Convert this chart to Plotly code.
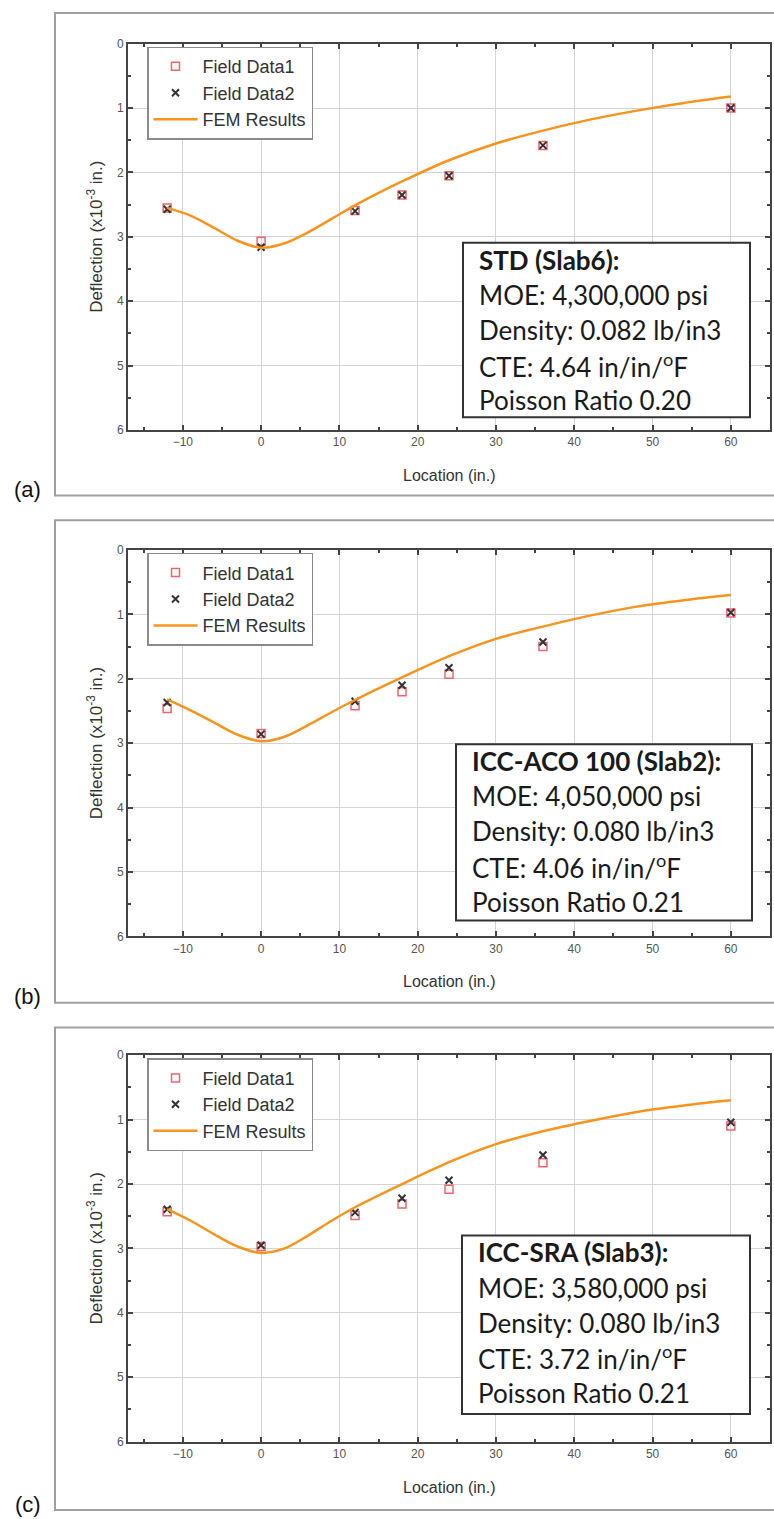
import plotly.graph_objects as go

W, H = 774, 1519

# Measurement locations (in.) and deflections (x10^-3 in.)
locations = [-12, 0, 12, 18, 24, 36, 60]
fem_x = [-12, -9, -6, -3, 0, 3, 6, 9, 12, 18, 24, 30, 36, 42, 48, 54, 60]

field1_a = [2.55, 3.07, 2.59, 2.35, 2.05, 1.58, 1.00]
field2_a = [2.57, 3.16, 2.60, 2.35, 2.05, 1.58, 1.00]
fem_a = [2.55, 2.67, 2.86, 3.06, 3.17, 3.10, 2.93, 2.72, 2.51, 2.14, 1.81, 1.55, 1.35, 1.18, 1.04, 0.92, 0.82]

field1_b = [2.46, 2.85, 2.42, 2.20, 1.93, 1.50, 0.98]
field2_b = [2.37, 2.86, 2.35, 2.10, 1.83, 1.43, 0.97]
fem_b = [2.32, 2.49, 2.68, 2.87, 2.97, 2.90, 2.72, 2.52, 2.33, 1.98, 1.65, 1.38, 1.19, 1.02, 0.88, 0.78, 0.70]

field1_c = [2.43, 2.97, 2.49, 2.31, 2.08, 1.67, 1.10]
field2_c = [2.39, 2.95, 2.44, 2.22, 1.94, 1.55, 1.04]
fem_c = [2.39, 2.57, 2.78, 2.97, 3.07, 3.00, 2.80, 2.57, 2.36, 2.00, 1.66, 1.38, 1.18, 1.02, 0.88, 0.78, 0.70]

props_a = ["<b>STD (Slab6):</b>", "MOE: 4,300,000 psi", "Density: 0.082 lb/in3",
           "CTE: 4.64 in/in/<sup>o</sup>F", "Poisson Ratio 0.20"]
props_b = ["<b>ICC-ACO 100 (Slab2):</b>", "MOE: 4,050,000 psi", "Density: 0.080 lb/in3",
           "CTE: 4.06 in/in/<sup>o</sup>F", "Poisson Ratio 0.21"]
props_c = ["<b>ICC-SRA (Slab3):</b>", "MOE: 3,580,000 psi", "Density: 0.080 lb/in3",
           "CTE: 3.72 in/in/<sup>o</sup>F", "Poisson Ratio 0.21"]

panel_tags = ["(a)", "(b)", "(c)"]
series_names = ["Field Data1", "Field Data2", "FEM Results"]


def px(x):
    return x / W


def py(y):
    return 1 - y / H


panels = [
    dict(f1=field1_a, f2=field2_a, fem=fem_a, props=props_a, top=37, frame=6,
         box=(463, 238, 750, 414)),
    dict(f1=field1_b, f2=field2_b, fem=fem_b, props=props_b, top=548, frame=518,
         box=(456, 744, 752, 922)),
    dict(f1=field1_c, f2=field2_c, fem=fem_c, props=props_c, top=1058, frame=1030,
         box=(462, 1240, 750, 1420)),
]

PLOT_L, PLOT_R, PLOT_H = 128, 770, 390
FRAME_H = 487

fig = go.Figure()
shapes, annotations = [], []
axis_font = dict(family="Liberation Sans, Arial", size=12, color="#555")

for i, p in enumerate(panels):
    n = "" if i == 0 else str(i + 1)
    xa, ya = "x" + n, "y" + n
    leg = "legend" + n
    fig.add_trace(go.Scatter(
        x=locations, y=p["f1"], mode="markers", name=series_names[0],
        xaxis=xa, yaxis=ya, legend=leg,
        marker=dict(symbol="square-open", size=8, color="#f0646e", line=dict(width=1.5))))
    fig.add_trace(go.Scatter(
        x=locations, y=p["f2"], mode="markers", name=series_names[1],
        xaxis=xa, yaxis=ya, legend=leg,
        marker=dict(symbol="x-thin", size=7, color="#333333",
                    line=dict(width=2, color="#333333"))))
    fig.add_trace(go.Scatter(
        x=fem_x, y=p["fem"], mode="lines", name=series_names[2],
        xaxis=xa, yaxis=ya, legend=leg,
        line=dict(color="#f7941d", width=2.5, shape="spline", smoothing=0.9)))

    top = p["top"]
    bottom = top + PLOT_H
    common = dict(showline=True, linecolor="#444", linewidth=2, mirror="allticks",
                  ticks="inside", ticklen=5, tickwidth=1.5, tickcolor="#444",
                  showgrid=True, gridcolor="#d4d4d4", gridwidth=1, zeroline=False,
                  tickfont=axis_font)
    fig.update_layout(**{
        "xaxis" + n: dict(domain=[px(PLOT_L), px(PLOT_R)], anchor=ya, range=[-17, 65],
                          dtick=10, tick0=0,
                          minor=dict(ticks="inside", dtick=5, ticklen=3, tickcolor="#444",
                                     showgrid=False),
                          **common),
        "yaxis" + n: dict(domain=[py(bottom), py(top)], anchor=xa, range=[6, 0],
                          dtick=1, tick0=0,
                          minor=dict(ticks="inside", dtick=0.5, ticklen=3, tickcolor="#444",
                                     showgrid=False),
                          **common),
        leg: dict(x=px(147), y=py(top + 3), xanchor="left", yanchor="top",
                  bgcolor="white", bordercolor="#8a8a8a", borderwidth=1.5,
                  font=dict(family="Liberation Sans, Arial", size=18, color="#333"),
                  tracegroupgap=0, itemwidth=44),
    })

    # panel frame
    fr = p["frame"]
    shapes.append(dict(type="rect", xref="paper", yref="paper",
                       x0=px(55), x1=px(W + 10), y0=py(fr + FRAME_H), y1=py(fr),
                       line=dict(color="#a0a0a0", width=2), layer="below"))
    # property box
    x0, y0, x1, y1 = p["box"]
    shapes.append(dict(type="rect", xref="paper", yref="paper",
                       x0=px(x0), x1=px(x1), y0=py(y1), y1=py(y0),
                       fillcolor="white", line=dict(color="#333", width=2), layer="above"))
    for k, line in enumerate(p["props"]):
        annotations.append(dict(
            xref="paper", yref="paper", x=px(x0 + 14), y=py(y0 + 17 + 35.5 * k),
            xanchor="left", yanchor="middle", showarrow=False, text=line,
            font=dict(family="Lato, Open Sans", size=26, color="#1a1a1a")))

    # axis titles
    annotations.append(dict(
        xref="paper", yref="paper", x=px(95), y=py(top + PLOT_H / 2),
        xanchor="center", yanchor="middle", textangle=-90, showarrow=False,
        text="Deflection (x10<sup>-3</sup> in.)",
        font=dict(family="Liberation Sans, Arial", size=17, color="#333")))
    annotations.append(dict(
        xref="paper", yref="paper", x=px((PLOT_L + PLOT_R) / 2), y=py(bottom + 46),
        xanchor="center", yanchor="middle", showarrow=False, text="Location (in.)",
        font=dict(family="Liberation Sans, Arial", size=16, color="#333")))
    # panel tag
    annotations.append(dict(
        xref="paper", yref="paper", x=px(28), y=py(fr + FRAME_H - 6),
        xanchor="center", yanchor="middle", showarrow=False, text=panel_tags[i],
        font=dict(family="Liberation Sans, Arial", size=22, color="#111")))

fig.update_layout(
    width=W, height=H, margin=dict(l=0, r=0, t=0, b=0),
    paper_bgcolor="white", plot_bgcolor="white",
    shapes=shapes, annotations=annotations, showlegend=True,
)

fig.write_html("out.html")
